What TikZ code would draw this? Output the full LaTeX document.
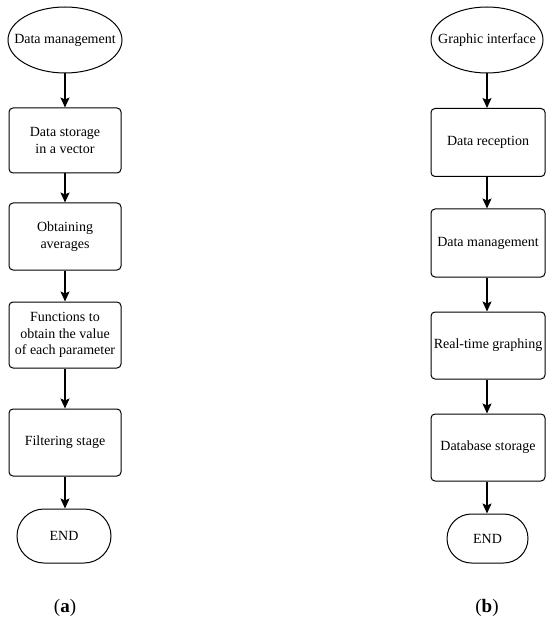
\documentclass[tikz,border=0pt]{standalone}
\usepackage{fontspec}
\setmainfont{Liberation Serif}
\usetikzlibrary{arrows.meta,shapes.geometric}
\begin{document}
\begin{tikzpicture}[x=1pt,y=-1pt,
  every node/.style={font=\fontsize{14}{16.5}\selectfont, align=center, inner sep=0pt},
  ell/.style={draw, ellipse, line width=1pt, inner xsep=-12pt, inner ysep=0pt},
  proc/.style={draw, rectangle, rounded corners=4pt, line width=1pt},
  term/.style={draw, rectangle, line width=1pt},
  arr/.style={line width=1.2pt, -{Stealth[length=10pt,width=9pt,inset=2pt]}},
  sublabel/.style={font=\fontsize{19}{22}\selectfont}
]
\useasboundingbox (0,0) rectangle (550,628);
% left column
\node[ell, minimum width=114pt, minimum height=66pt] (a0) at (65,40) {Data management};
\node[proc, minimum width=112pt, minimum height=65pt] (a1) at (65,140.5) {Data storage\\in a vector};
\node[proc, minimum width=112pt, minimum height=67pt] (a2) at (65,236.5) {Obtaining\\averages};
\node[proc, minimum width=112pt, minimum height=66pt] (a3) at (65,335) {Functions to\\obtain the value\\of each parameter};
\node[proc, minimum width=112pt, minimum height=67pt] (a4) at (65,442.5) {Filtering stage};
\node[term, rounded corners=27pt, minimum width=94pt, minimum height=54pt] (a5) at (64,536) {END};
\node[sublabel] (la) at (65,608) {(\textbf{a})};
\draw[arr] (a0) -- (a1);
\draw[arr] (a1) -- (a2);
\draw[arr] (a2) -- (a3);
\draw[arr] (a3) -- (a4);
\draw[arr] (a4.south) -- (a5.north -| a4.south);
% right column
\node[ell, minimum width=112pt, minimum height=66pt] (b0) at (487,40) {Graphic interface};
\node[proc, minimum width=114pt, minimum height=68pt] (b1) at (488,142.5) {Data reception};
\node[proc, minimum width=114pt, minimum height=68pt] (b2) at (488,243) {Data management};
\node[proc, minimum width=114pt, minimum height=67pt] (b3) at (488,345.5) {Real-time graphing};
\node[proc, minimum width=114pt, minimum height=67pt] (b4) at (488,447.5) {Database storage};
\node[term, rounded corners=24.5pt, minimum width=81pt, minimum height=49pt] (b5) at (487.5,538.5) {END};
\node[sublabel] (lb) at (487,608) {(\textbf{b})};
\draw[arr] (b0) -- (b1.north -| b0.south);
\draw[arr] (b1.south -| b0.south) -- (b2.north -| b0.south);
\draw[arr] (b2.south -| b0.south) -- (b3.north -| b0.south);
\draw[arr] (b3.south -| b0.south) -- (b4.north -| b0.south);
\draw[arr] (b4.south -| b0.south) -- (b5.north -| b0.south);
\end{tikzpicture}
\end{document}
